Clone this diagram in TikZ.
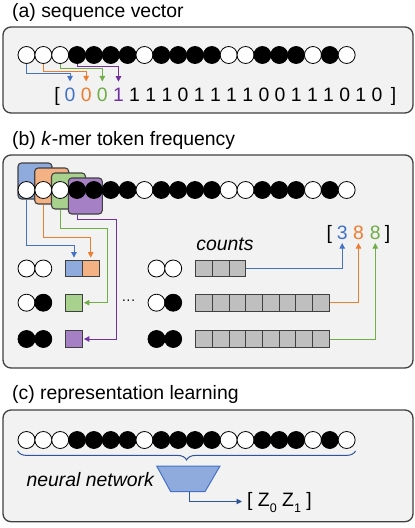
\documentclass[tikz,border=0pt]{standalone}
\usepackage{fontspec}
\setmainfont{Liberation Sans}
\usetikzlibrary{arrows.meta,decorations.pathreplacing,calc}
\definecolor{cblue}{HTML}{4472C4}
\definecolor{corange}{HTML}{ED7D31}
\definecolor{cgreen}{HTML}{70AD47}
\definecolor{cpurple}{HTML}{7030A0}
\definecolor{fblue}{HTML}{8FAADC}
\definecolor{forange}{HTML}{F4B183}
\definecolor{fgreen}{HTML}{A9D18E}
\definecolor{fpurple}{HTML}{A680C4}
\definecolor{cgray}{HTML}{BFBFBF}
\definecolor{cborder}{HTML}{404040}
\definecolor{cpanel}{HTML}{F2F2F2}
\definecolor{cdblue}{HTML}{2F5597}
\newcommand\mySeqRow[2]{%
  \foreach \bb [count=\ii] in {0,0,0,1,1,1,1,0,1,1,1,1,0,0,1,1,1,0,1,0} {%
    \ifnum\bb=1 \def\fc{black}\else\def\fc{white}\fi
    \node[circ,fill=\fc] (#1\ii) at ({26.5+(\ii-1)*16.85},#2) {};
  }%
}
\newcommand\mySub[1]{\raisebox{-0.28em}{\fontsize{12.5}{13}\selectfont #1}}
\begin{document}
\begin{tikzpicture}[x=1pt,y=-1pt,
  every node/.style={font=\fontsize{19.4}{23}\selectfont},
  circ/.style={circle,draw=black,line width=0.8pt,minimum size=17pt,inner sep=0pt},
  panel/.style={draw=cborder,fill=cpanel,line width=1.3pt,rounded corners=8pt},
  arr/.style={line width=0.9pt,-{Triangle[length=5.5pt,width=5.5pt]}},
  cell/.style={draw=cborder,line width=1.1pt,minimum size=16.7pt,inner sep=0pt},
  kbox/.style={draw=cborder,line width=1.1pt,rounded corners=3.5pt,minimum width=34pt,minimum height=36pt,inner sep=0pt},
  dig/.style={inner sep=0pt,anchor=base},
  title/.style={inner sep=0pt,anchor=base west}]
\useasboundingbox (0,0) rectangle (415,528);

% ---------------- (a)
\node[title] (ta) at (12,17.5) {(a) sequence vector};
\draw[panel] (3,27) rectangle (413,113);
\mySeqRow{a}{55}
\node[dig] (lbra) at (57,101.7) {[};
\foreach \b/\c [count=\i] in {0/cblue,0/corange,0/cgreen,1/cpurple,1/black,1/black,1/black,0/black,1/black,1/black,1/black,1/black,0/black,0/black,1/black,1/black,1/black,0/black,1/black,0/black}
  \node[dig,text=\c] (d\i) at ({70+(\i-1)*16.16},101.7) {\b};
\node[dig] (rbra) at (393.5,101.7) {]};
\draw[arr,cblue] (a1.south) -- ++(0,10) -| ([yshift=6.5pt]d1.north);
\draw[arr,corange] (a2.south) -- ++(0,7.5) -| ([yshift=6.5pt]d2.north);
\draw[arr,cgreen] (a3.south) -- ++(0,5) -| ([yshift=6.5pt]d3.north);
\draw[arr,cpurple] (a4.south) -- ++(0,2.7) -| ([yshift=6.5pt]d4.north);

% ---------------- (b)
\node[title] (tb) at (12,145.7) {(b) \textit{k}-mer token frequency};
\draw[panel] (3,155) rectangle (413,368);
\node[kbox,fill=fblue] (sqb) at (35,181) {};
\node[kbox,fill=forange] (sqo) at (51.7,186) {};
\node[kbox,fill=fgreen] (sqg) at (68.5,191) {};
\node[kbox,fill=fpurple] (sqp) at (85.3,196) {};
\mySeqRow{b}{190}

% left tokens
\node[circ,fill=white] (l1a) at (26.5,268.5) {};
\node[circ,fill=white] (l1b) at (43.3,268.5) {};
\node[circ,fill=white] (l2a) at (26.5,302.7) {};
\node[circ,fill=black] (l2b) at (43.3,302.7) {};
\node[circ,fill=black] (l3a) at (26.5,339) {};
\node[circ,fill=black] (l3b) at (43.3,339) {};
\node[cell,fill=fblue] (cb) at (74,268.5) {};
\node[cell,fill=forange] (co) at (90.7,268.5) {};
\node[cell,fill=fgreen] (cg) at (74,302.7) {};
\node[cell,fill=fpurple] (cp) at (74,339) {};

\draw[arr,cblue] (b1 |- sqb.south) -- ++(0,46) -| ([yshift=2pt]cb.north);
\draw[arr,corange] (b2 |- sqo.south) -- ++(0,32.7) -| ([yshift=2pt]co.north);
\draw[arr,cgreen] (b3 |- sqg.south) -- ++(0,19.3) -| ([xshift=24.4pt]cg.east) -- ([xshift=1pt]cg.east);
\draw[arr,cpurple] (b4 |- sqp.south) -- ++(0,5.3) -| ([xshift=33.4pt]cp.east) -- ([xshift=1pt]cp.east);

\node[inner sep=0pt,font=\fontsize{14}{16}\selectfont] (dots) at (128.5,302.5) {···};

% right tokens
\node[circ,fill=white] (r1a) at (156.5,268.5) {};
\node[circ,fill=white] (r1b) at (173.2,268.5) {};
\node[circ,fill=white] (r2a) at (156.5,302.7) {};
\node[circ,fill=black] (r2b) at (173.2,302.7) {};
\node[circ,fill=black] (r3a) at (156.5,339) {};
\node[circ,fill=black] (r3b) at (173.2,339) {};
\foreach \j in {1,...,3} \node[cell,fill=cgray] (r1c\j) at ({204.05+(\j-1)*16.7},268.5) {};
\foreach \j in {1,...,8} \node[cell,fill=cgray] (r2c\j) at ({204.05+(\j-1)*16.7},302.7) {};
\foreach \j in {1,...,8} \node[cell,fill=cgray] (r3c\j) at ({204.05+(\j-1)*16.7},339) {};
\node[inner sep=0pt,anchor=base,font=\fontsize{19.4}{23}\selectfont\itshape] (counts) at (225,250.5) {counts};

\node[dig] (klb) at (329.2,239.3) {[};
\node[dig,text=cblue] (k1) at (342.2,239.3) {3};
\node[dig,text=corange] (k2) at (358.5,239.3) {8};
\node[dig,text=cgreen] (k3) at (375.3,239.3) {8};
\node[dig] (krb) at (387.5,239.3) {]};
\draw[arr,cblue] (r1c3.east) -| ([yshift=-3.4pt]k1.south);
\draw[arr,corange] (r2c8.east) -| ([yshift=-3.4pt]k2.south);
\draw[arr,cgreen] (r3c8.east) -| ([yshift=-3.4pt]k3.south);

% ---------------- (c)
\node[title] (tc) at (12,399.5) {(c) representation learning};
\draw[panel] (3,410) rectangle (413,521.7);
\mySeqRow{c}{440}
\draw[cdblue,line width=1pt,decorate,decoration={brace,mirror,amplitude=9pt}]
  ($(c1.west |- c1.south)+(0,2)$) -- ($(c20.east |- c20.south)+(0,2)$);
\draw[fill=fblue,draw=cblue,line width=1pt] (156.7,466) -- (220,466) -- (205,491.7) -- (170.7,491.7) -- cycle;
\coordinate (nn) at (189.3,491.7);
\node[inner sep=0pt,anchor=base east,font=\fontsize{19.4}{23}\selectfont\itshape] (nnl) at (154,486) {neural network};
\node[inner sep=0pt,anchor=base west] (zz) at (247,506.7) {[ Z\mySub{0} Z\mySub{1} ]};
\draw[arr,cdblue] (nn) |- ([xshift=-5pt]zz.west |- 0,501.5);
\end{tikzpicture}
\end{document}
